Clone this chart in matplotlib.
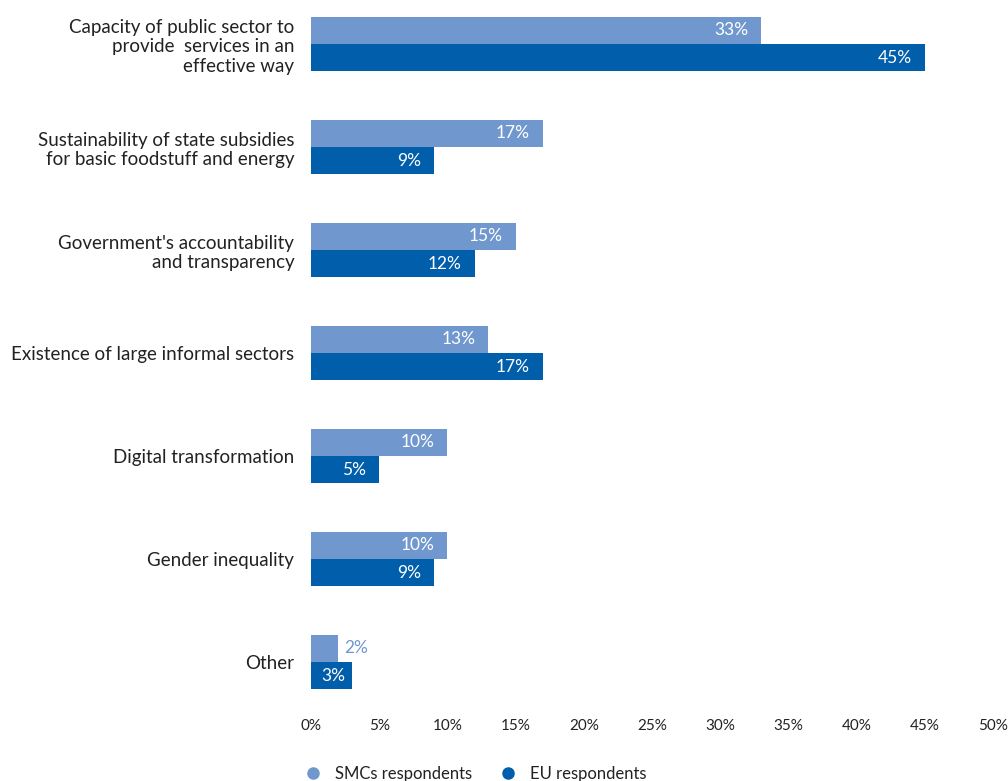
import matplotlib.pyplot as plt
from matplotlib.lines import Line2D
import numpy as np

plt.rcParams['font.family'] = ['Lato', 'DejaVu Sans']

categories = [
    'Capacity of public sector to\nprovide  services in an\neffective way',
    'Sustainability of state subsidies\nfor basic foodstuff and energy',
    "Government's accountability\nand transparency",
    'Existence of large informal sectors',
    'Digital transformation',
    'Gender inequality',
    'Other',
]
smc_values = [33, 17, 15, 13, 10, 10, 2]
eu_values = [45, 9, 12, 17, 5, 9, 3]
series_names = ['SMCs respondents', 'EU respondents']
x_ticks = [0, 5, 10, 15, 20, 25, 30, 35, 40, 45, 50]

light = '#7098CE'
dark = '#005EAA'

fig = plt.figure(figsize=(10.08, 7.81), dpi=100)
ax = fig.add_axes([0.3085, 0.0883, 0.6766, 0.908])

y = np.arange(len(categories))
h = 0.265
ax.barh(y - h / 2, smc_values, height=h, color=light)
ax.barh(y + h / 2, eu_values, height=h, color=dark)

# value labels inside the bar end, outside if the bar is too short
for yy, v, c in [(y - h / 2, smc_values, light), (y + h / 2, eu_values, dark)]:
    for yi, vi in zip(yy, v):
        if vi >= 3:
            off = 0.95 if vi > 3 else 0.5
            ax.text(vi - off, yi, f'{vi}%', ha='right', va='center',
                    color='white', fontsize=12.5)
        else:
            ax.text(vi + 0.45, yi, f'{vi}%', ha='left', va='center',
                    color=c, fontsize=12.5)

ax.set_xlim(0, 50)
ax.set_ylim(6.485, -0.4)
ax.set_xticks(x_ticks)
ax.set_xticklabels([f'{t}%' for t in x_ticks], fontsize=11, color='#222222')
ax.set_yticks(y)
ax.set_yticklabels(categories, fontsize=13.5, color='#222222', ha='right',
                   multialignment='right')
ax.tick_params(axis='both', length=0)
ax.tick_params(axis='x', pad=5)
ax.tick_params(axis='y', pad=12)
for s in ax.spines.values():
    s.set_visible(False)

handles = [
    Line2D([], [], marker='o', linestyle='', color=light, markersize=8),
    Line2D([], [], marker='o', linestyle='', color=dark, markersize=8),
]
fig.legend(handles, series_names, loc='lower left', bbox_to_anchor=(0.279, -0.02),
           ncol=2, frameon=False, fontsize=12, handletextpad=0.35,
           columnspacing=1.1, labelcolor='#222222')

fig.savefig('out.png', dpi=100)
